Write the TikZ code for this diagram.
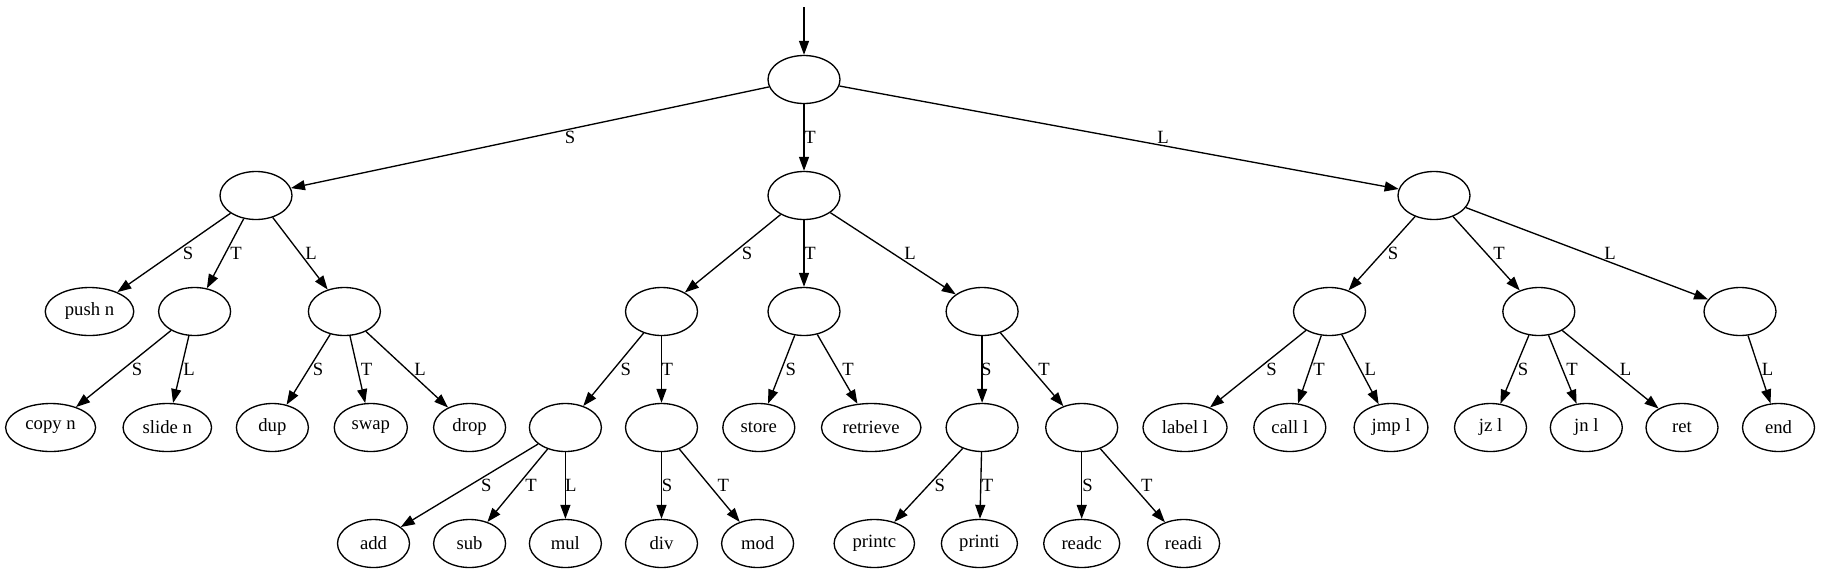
\documentclass[tikz,border=0pt]{standalone}
\usepackage{fontspec}
\setmainfont{Liberation Serif}
\usetikzlibrary{shapes.geometric,arrows.meta}
\begin{document}
\begin{tikzpicture}[x=0.75bp,y=-0.75bp,
  st/.style={draw, ellipse, line width=1bp, minimum width=54bp, minimum height=36bp,
    inner xsep=5bp, inner ysep=2bp, font=\fontsize{14bp}{16bp}\selectfont},
  lbl/.style={inner sep=0pt, font=\fontsize{14bp}{16bp}\selectfont},
  arr/.style={-{Triangle[length=10.5bp,width=7.5bp]}, line width=1bp},
]
\useasboundingbox (0,0) rectangle (1821,573);
% level 0
\coordinate (start) at (804,7);
\node[st] (root) at (804,79.5) {};
% level 1
\node[st] (n) at (256,195.5) {};
\node[st] (m) at (804,195.5) {};
\node[st] (r) at (1434,195.5) {};
% level 2
\node[st] (pushn) at (89.5,311.5) {push n};
\node[st] (nT) at (194.6,311.5) {};
\node[st] (nL) at (344.4,311.5) {};
\node[st] (mS) at (661.5,311.5) {};
\node[st] (mT) at (804,311.5) {};
\node[st] (mL) at (982.1,311.5) {};
\node[st] (rS) at (1329.5,311.5) {};
\node[st] (rT) at (1538.8,311.5) {};
\node[st] (rL) at (1740,311.5) {};
% level 3
\node[st] (copyn) at (50.6,427.5) {copy n};
\node[st] (sliden) at (167.3,427.5) {slide n};
\node[st] (dup) at (272.4,427.5) {dup};
\node[st] (swap) at (370.8,427.5) {swap};
\node[st] (drop) at (469.6,427.5) {drop};
\node[st] (mSS) at (565.4,427.5) {};
\node[st] (mST) at (661.5,427.5) {};
\node[st] (store) at (758.8,427.5) {store};
\node[st] (retrieve) at (871.2,427.5) {retrieve};
\node[st] (mLS) at (982.1,427.5) {};
\node[st] (mLT) at (1081.7,427.5) {};
\node[st] (labell) at (1185,427.5) {label l};
\node[st] (calll) at (1289.8,427.5) {call l};
\node[st] (jmpl) at (1391,427.5) {jmp l};
\node[st] (jzl) at (1490.5,427.5) {jz l};
\node[st] (jnl) at (1586.3,427.5) {jn l};
\node[st] (ret) at (1682,427.5) {ret};
\node[st] (nend) at (1778.5,427.5) {end};
% level 4
\node[st] (add) at (373.5,543.5) {add};
\node[st] (sub) at (469.6,543.5) {sub};
\node[st] (mul) at (565.4,543.5) {mul};
\node[st] (div) at (661.5,543.5) {div};
\node[st] (mod) at (757.6,543.5) {mod};
\node[st] (printc) at (874.3,543.5) {printc};
\node[st] (printi) at (979.4,543.5) {printi};
\node[st] (readc) at (1081.7,543.5) {readc};
\node[st] (readi) at (1183.6,543.5) {readi};
% edges
\draw[arr] (start) -- (root);
\foreach \a/\b/\t/\x/\y in {
  root/n/S/570/137, root/m/T/810/137, root/r/L/1163/137,
  n/pushn/S/188/253, n/nT/T/236/253, n/nL/L/311/253,
  m/mS/S/747/253, m/mT/T/810/253, m/mL/L/910/253,
  r/rS/S/1393/253, r/rT/T/1499/253, r/rL/L/1610/253,
  nT/copyn/S/137/369, nT/sliden/L/189/369,
  nL/dup/S/318/369, nL/swap/T/366.5/369, nL/drop/L/420/369,
  mS/mSS/S/625.7/369, mS/mST/T/667.3/369,
  mT/store/S/790.7/369, mT/retrieve/T/848/369,
  mL/mLS/S/986.4/369, mL/mLT/T/1044/369,
  rS/labell/S/1271.5/369, rS/calll/T/1319/369, rS/jmpl/L/1370.3/369,
  rT/jzl/S/1523/369, rT/jnl/T/1572/369, rT/ret/L/1625.6/369,
  rL/nend/L/1767.6/369,
  mSS/add/S/486.4/485, mSS/sub/T/531/485, mSS/mul/L/570.8/485,
  mST/div/S/667/485, mST/mod/T/723.3/485,
  mLS/printc/S/939.7/485, mLS/printi/T/987.5/485,
  mLT/readc/S/1087.5/485, mLT/readi/T/1146.7/485}
{
  \draw[arr] (\a) -- (\b);
  \node[lbl] (lab-\a-\b) at (\x,\y) {\t};
}
\end{tikzpicture}
\end{document}
